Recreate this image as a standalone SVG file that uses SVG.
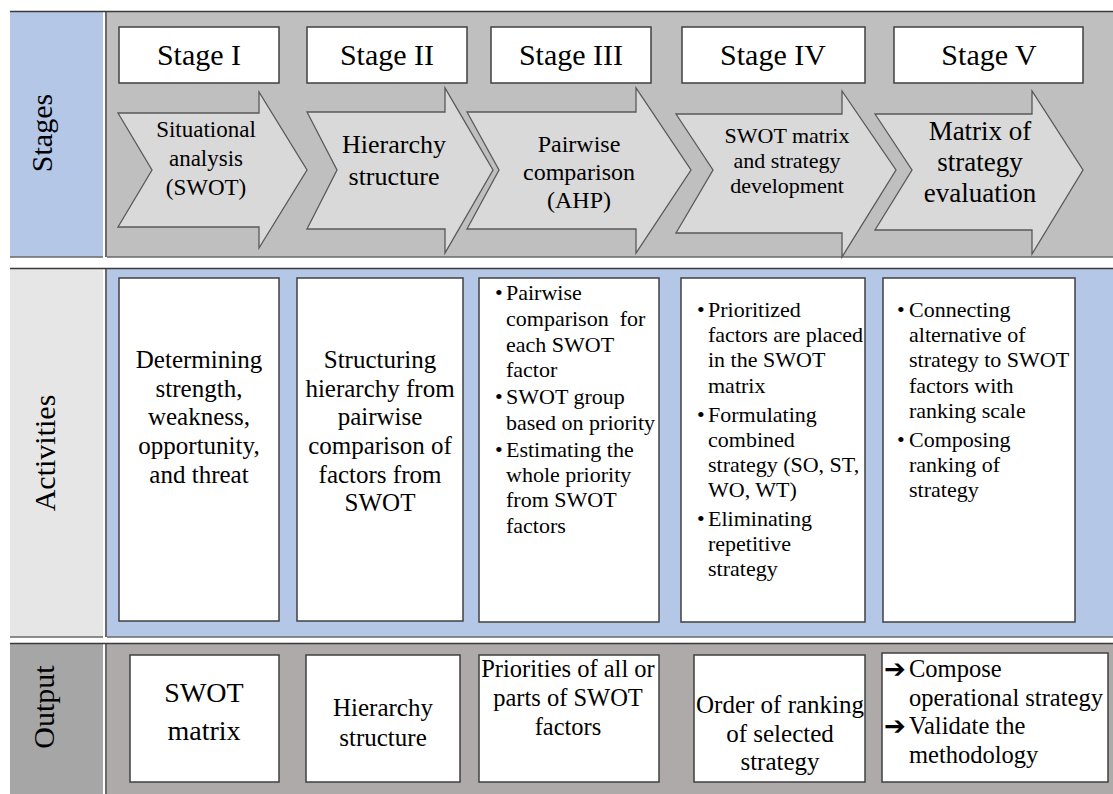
<svg xmlns="http://www.w3.org/2000/svg" width="1113" height="794" viewBox="0 0 1113 794">
<style>
.c{text-anchor:middle}
.box{fill:#fff;stroke:#404040;stroke-width:1.5}
.arrow{fill:#d9d9d9;stroke:#595959;stroke-width:1.3}
.edge{stroke:#3a3a3a;stroke-width:1.5;fill:none}
.edge2{stroke:#6a6a6a;stroke-width:1.5;fill:none}
</style>
<rect width="1113" height="794" fill="#fff"/>
<g id="row-stages">
<rect x="10" y="11" width="93" height="246" fill="#b4c7e7"/>
<rect x="107" y="11" width="1006" height="246" fill="#bfbfbf"/>
<path class="edge" d="M10,11.5H1113M106,11V257"/>
<path class="edge2" d="M10,257H103M107,257H1113"/>
<text class="c" style="font-family:'Liberation Serif',serif;font-size:30px" transform="translate(52,133) rotate(-90)">Stages</text>
</g>
<g id="row-activities">
<rect x="10" y="268" width="93" height="369" fill="#e7e6e6"/>
<rect x="107" y="268" width="1006" height="369" fill="#b4c7e7"/>
<path class="edge" d="M10,268.5H1113M106,268V637"/>
<path class="edge2" d="M10,637H103M107,637H1113"/>
<text class="c" style="font-family:'Liberation Serif',serif;font-size:30px" transform="translate(55,453) rotate(-90)">Activities</text>
</g>
<g id="row-output">
<rect x="10" y="643" width="93" height="151" fill="#a6a6a6"/>
<rect x="107" y="643" width="1006" height="151" fill="#aeaaaa"/>
<path class="edge" d="M10,643.5H1113M106,643V794"/>
<text class="c" style="font-family:'Liberation Serif',serif;font-size:30px" transform="translate(54,707) rotate(-90)">Output</text>
</g>
<g id="stage1">
<rect class="box" x="119" y="27" width="160" height="56"/>
<text class="c" style="font-family:'Liberation Serif',serif;font-size:30px" x="199" y="65">Stage I</text>
<path class="arrow" d="M118,113L259,113L259,92L307,170L259,248L259,227L118,227L152,170Z"/>
<text class="c" style="font-family:'Liberation Serif',serif;font-size:23px" x="206" y="137">Situational</text>
<text class="c" style="font-family:'Liberation Serif',serif;font-size:23px" x="206" y="166">analysis</text>
<text class="c" style="font-family:'Liberation Serif',serif;font-size:23px" x="206" y="195">(SWOT)</text>
</g>
<g id="stage2">
<rect class="box" x="307" y="27" width="160" height="56"/>
<text class="c" style="font-family:'Liberation Serif',serif;font-size:30px" x="387" y="65">Stage II</text>
<path class="arrow" d="M307,112L445,112L445,88L493,170L445,253L445,229L307,229L337,170Z"/>
<text class="c" style="font-family:'Liberation Serif',serif;font-size:26px" x="394" y="153">Hierarchy</text>
<text class="c" style="font-family:'Liberation Serif',serif;font-size:26px" x="394" y="185">structure</text>
</g>
<g id="stage3">
<rect class="box" x="491" y="27" width="160" height="56"/>
<text class="c" style="font-family:'Liberation Serif',serif;font-size:30px" x="571" y="65">Stage III</text>
<path class="arrow" d="M467,112L636,112L636,88L691,170L636,253L636,229L467,229L499,170Z"/>
<text class="c" style="font-family:'Liberation Serif',serif;font-size:24px" x="579" y="152">Pairwise</text>
<text class="c" style="font-family:'Liberation Serif',serif;font-size:24px" x="579" y="180">comparison</text>
<text class="c" style="font-family:'Liberation Serif',serif;font-size:24px" x="579" y="208">(AHP)</text>
</g>
<g id="stage4">
<rect class="box" x="682" y="27" width="183" height="56"/>
<text class="c" style="font-family:'Liberation Serif',serif;font-size:30px" x="773" y="65">Stage IV</text>
<path class="arrow" d="M676,114L842,114L842,91L896,170L842,257L842,233L676,233L713,170Z"/>
<text class="c" style="font-family:'Liberation Serif',serif;font-size:22px" x="787" y="143">SWOT matrix</text>
<text class="c" style="font-family:'Liberation Serif',serif;font-size:22px" x="787" y="168">and strategy</text>
<text class="c" style="font-family:'Liberation Serif',serif;font-size:22px" x="787" y="193">development</text>
</g>
<g id="stage5">
<rect class="box" x="894" y="27" width="189" height="56"/>
<text class="c" style="font-family:'Liberation Serif',serif;font-size:30px" x="989" y="65">Stage V</text>
<path class="arrow" d="M875,114L1032,114L1032,91L1083,170L1032,254L1032,230L875,230L912,170Z"/>
<text class="c" style="font-family:'Liberation Serif',serif;font-size:27px" x="980" y="140">Matrix of</text>
<text class="c" style="font-family:'Liberation Serif',serif;font-size:27px" x="980" y="171">strategy</text>
<text class="c" style="font-family:'Liberation Serif',serif;font-size:27px" x="980" y="202">evaluation</text>
</g>
<g id="activity1">
<rect class="box" x="119" y="278" width="160" height="343"/>
<text class="c" style="font-family:'Liberation Serif',serif;font-size:25px" x="199" y="368">Determining</text>
<text class="c" style="font-family:'Liberation Serif',serif;font-size:25px" x="199" y="397">strength,</text>
<text class="c" style="font-family:'Liberation Serif',serif;font-size:25px" x="199" y="425">weakness,</text>
<text class="c" style="font-family:'Liberation Serif',serif;font-size:25px" x="199" y="454">opportunity,</text>
<text class="c" style="font-family:'Liberation Serif',serif;font-size:25px" x="199" y="483">and threat</text>
</g>
<g id="activity2">
<rect class="box" x="297" y="278" width="166" height="343"/>
<text class="c" style="font-family:'Liberation Serif',serif;font-size:25px" x="380" y="368">Structuring</text>
<text class="c" style="font-family:'Liberation Serif',serif;font-size:25px" x="380" y="397">hierarchy from</text>
<text class="c" style="font-family:'Liberation Serif',serif;font-size:25px" x="380" y="425">pairwise</text>
<text class="c" style="font-family:'Liberation Serif',serif;font-size:25px" x="380" y="454">comparison of</text>
<text class="c" style="font-family:'Liberation Serif',serif;font-size:25px" x="380" y="483">factors from</text>
<text class="c" style="font-family:'Liberation Serif',serif;font-size:25px" x="380" y="511">SWOT</text>
</g>
<g id="activity3" style="font-family:'Liberation Serif',serif;font-size:22px">
<rect class="box" x="479" y="278" width="180" height="344"/>
<text x="495" y="300">•</text>
<text x="495" y="404">•</text>
<text x="495" y="457">•</text>
<text x="506" y="300">Pairwise</text>
<text x="506" y="326">comparison&#160; for</text>
<text x="506" y="352">each SWOT</text>
<text x="506" y="377">factor</text>
<text x="506" y="404">SWOT group</text>
<text x="506" y="430">based on priority</text>
<text x="506" y="457">Estimating the</text>
<text x="506" y="482">whole priority</text>
<text x="506" y="507">from SWOT</text>
<text x="506" y="533">factors</text>
</g>
<g id="activity4" style="font-family:'Liberation Serif',serif;font-size:22px">
<rect class="box" x="681" y="278" width="184" height="344"/>
<text x="697" y="317">•</text>
<text x="697" y="422">•</text>
<text x="697" y="526">•</text>
<text x="708" y="317">Prioritized</text>
<text x="708" y="342">factors are placed</text>
<text x="708" y="367">in the SWOT</text>
<text x="708" y="393">matrix</text>
<text x="708" y="422">Formulating</text>
<text x="708" y="447">combined</text>
<text x="708" y="472">strategy (SO, ST,</text>
<text x="708" y="497">WO, WT)</text>
<text x="708" y="526">Eliminating</text>
<text x="708" y="551">repetitive</text>
<text x="708" y="576">strategy</text>
</g>
<g id="activity5" style="font-family:'Liberation Serif',serif;font-size:22px">
<rect class="box" x="883" y="278" width="192" height="344"/>
<text x="897" y="317">•</text>
<text x="897" y="447">•</text>
<text x="909" y="317">Connecting</text>
<text x="909" y="342">alternative of</text>
<text x="909" y="367">strategy to SWOT</text>
<text x="909" y="393">factors with</text>
<text x="909" y="418">ranking scale</text>
<text x="909" y="447">Composing</text>
<text x="909" y="472">ranking of</text>
<text x="909" y="497">strategy</text>
</g>
<g id="output1">
<rect class="box" x="130" y="655" width="149" height="127"/>
<text class="c" style="font-family:'Liberation Serif',serif;font-size:28px" x="204" y="702">SWOT</text>
<text class="c" style="font-family:'Liberation Serif',serif;font-size:28px" x="204" y="740">matrix</text>
</g>
<g id="output2">
<rect class="box" x="306" y="655" width="154" height="127"/>
<text class="c" style="font-family:'Liberation Serif',serif;font-size:25px" x="383" y="716">Hierarchy</text>
<text class="c" style="font-family:'Liberation Serif',serif;font-size:25px" x="383" y="746">structure</text>
</g>
<g id="output3">
<rect class="box" x="479" y="655" width="180" height="127"/>
<text class="c" style="font-family:'Liberation Serif',serif;font-size:24.5px" x="568" y="677">Priorities of all or</text>
<text class="c" style="font-family:'Liberation Serif',serif;font-size:24.5px" x="568" y="706">parts of SWOT</text>
<text class="c" style="font-family:'Liberation Serif',serif;font-size:24.5px" x="568" y="735">factors</text>
</g>
<g id="output4">
<rect class="box" x="694" y="655" width="171" height="127"/>
<text class="c" style="font-family:'Liberation Serif',serif;font-size:25px" x="780" y="713">Order of ranking</text>
<text class="c" style="font-family:'Liberation Serif',serif;font-size:25px" x="780" y="742">of selected</text>
<text class="c" style="font-family:'Liberation Serif',serif;font-size:25px" x="780" y="770">strategy</text>
</g>
<g id="output5">
<rect class="box" x="882" y="653" width="226" height="129"/>
<text style="font-family:'DejaVu Sans',sans-serif;font-size:26px;font-weight:bold" x="884" y="678">➔</text>
<text style="font-family:'DejaVu Sans',sans-serif;font-size:26px;font-weight:bold" x="884" y="735">➔</text>
<text style="font-family:'Liberation Serif',serif;font-size:24.5px" x="909" y="677">Compose</text>
<text style="font-family:'Liberation Serif',serif;font-size:24.5px" x="909" y="706">operational strategy</text>
<text style="font-family:'Liberation Serif',serif;font-size:24.5px" x="909" y="734">Validate the</text>
<text style="font-family:'Liberation Serif',serif;font-size:24.5px" x="909" y="763">methodology</text>
</g>
<g id="connectors"></g>
</svg>
